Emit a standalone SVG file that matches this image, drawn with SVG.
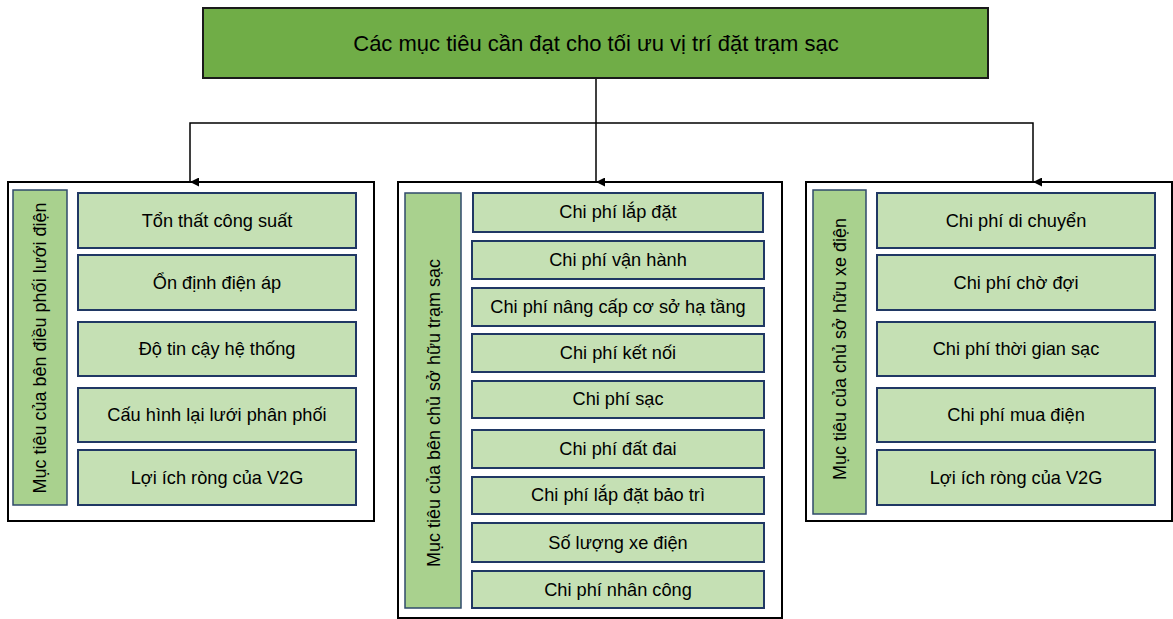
<svg xmlns="http://www.w3.org/2000/svg" width="1173" height="619" viewBox="0 0 1173 619">
<defs>
<marker id="arr" markerWidth="9" markerHeight="9" refX="4.5" refY="9" orient="auto-start-reverse" markerUnits="userSpaceOnUse" viewBox="0 0 9 9">
<path d="M0,0 L9,0 L4.5,9 Z" fill="#000"/>
</marker>
</defs>
<style>
text{font-family:"Liberation Sans",Arial,sans-serif;fill:#000;text-anchor:middle;dominant-baseline:central}
.title{font-size:22px}
.it{font-size:18.2px}
.vl{font-size:18px}
.panel{fill:#fff;stroke:#000;stroke-width:2}
.item{fill:#C5E0B4;stroke:#203864;stroke-width:2}
.lab{fill:#A9D18E;stroke:#2F4A6B;stroke-width:1.5}
.conn{fill:none;stroke:#000;stroke-width:1.5}
</style>
<rect width="1173" height="619" fill="#fff"/>
<g id="title">
<rect x="203" y="8" width="785" height="70" fill="#70AD47" stroke="#1a1a1a" stroke-width="2"/>
<text class="title" x="596" y="43">Các mục tiêu cần đạt cho tối ưu vị trí đặt trạm sạc</text>
</g>
<g id="panel-left">
<rect class="panel" x="8" y="182" width="366" height="339"/>
<rect class="lab" x="13" y="190" width="54" height="315"/>
<text class="vl" transform="translate(40,348) rotate(-90)">Mục tiêu của bên điều phối lưới điện</text>
</g>
<g id="l1"><rect class="item" x="78" y="193" width="278" height="55"/><text class="it" x="217" y="221">Tổn thất công suất</text></g>
<g id="l2"><rect class="item" x="78" y="255" width="278" height="55"/><text class="it" x="217" y="283">Ổn định điện áp</text></g>
<g id="l3"><rect class="item" x="78" y="322" width="278" height="54"/><text class="it" x="217" y="349">Độ tin cậy hệ thống</text></g>
<g id="l4"><rect class="item" x="78" y="388" width="278" height="54"/><text class="it" x="217" y="415">Cấu hình lại lưới phân phối</text></g>
<g id="l5"><rect class="item" x="78" y="450" width="278" height="55"/><text class="it" x="217" y="478">Lợi ích ròng của V2G</text></g>
<g id="panel-mid">
<rect class="panel" x="398" y="182" width="384" height="436"/>
<rect class="lab" x="405" y="193" width="56" height="415"/>
<text class="vl" transform="translate(434,413) rotate(-90)">Mục tiêu của bên chủ sở hữu trạm sạc</text>
</g>
<g id="m1"><rect class="item" x="473" y="193" width="290" height="39"/><text class="it" x="618" y="212">Chi phí lắp đặt</text></g>
<g id="m2"><rect class="item" x="472" y="241" width="292" height="38"/><text class="it" x="618" y="260">Chi phí vận hành</text></g>
<g id="m3"><rect class="item" x="472" y="288" width="292" height="38"/><text class="it" x="618" y="307">Chi phí nâng cấp cơ sở hạ tầng</text></g>
<g id="m4"><rect class="item" x="472" y="334" width="292" height="38"/><text class="it" x="618" y="353">Chi phí kết nối</text></g>
<g id="m5"><rect class="item" x="472" y="381" width="292" height="37"/><text class="it" x="618" y="399">Chi phí sạc</text></g>
<g id="m6"><rect class="item" x="472" y="430" width="292" height="38"/><text class="it" x="618" y="449">Chi phí đất đai</text></g>
<g id="m7"><rect class="item" x="472" y="477" width="292" height="37"/><text class="it" x="618" y="495">Chi phí lắp đặt bảo trì</text></g>
<g id="m8"><rect class="item" x="472" y="523" width="292" height="39"/><text class="it" x="618" y="543">Số lượng xe điện</text></g>
<g id="m9"><rect class="item" x="472" y="571" width="292" height="37"/><text class="it" x="618" y="590">Chi phí nhân công</text></g>
<g id="panel-right">
<rect class="panel" x="806" y="182" width="366" height="339"/>
<rect class="lab" x="813" y="190" width="53" height="324"/>
<text class="vl" transform="translate(840,349) rotate(-90)">Mục tiêu của chủ sở hữu xe điện</text>
</g>
<g id="r1"><rect class="item" x="877" y="193" width="278" height="55"/><text class="it" x="1016" y="221">Chi phí di chuyển</text></g>
<g id="r2"><rect class="item" x="877" y="255" width="278" height="55"/><text class="it" x="1016" y="283">Chi phí chờ đợi</text></g>
<g id="r3"><rect class="item" x="877" y="322" width="278" height="54"/><text class="it" x="1016" y="349">Chi phí thời gian sạc</text></g>
<g id="r4"><rect class="item" x="877" y="388" width="278" height="54"/><text class="it" x="1016" y="415">Chi phí mua điện</text></g>
<g id="r5"><rect class="item" x="877" y="450" width="278" height="55"/><text class="it" x="1016" y="478">Lợi ích ròng của V2G</text></g>
<g id="connectors">
<path class="conn" d="M596,79 V182" marker-end="url(#arr)"/>
<path class="conn" d="M596,123 H190 V182" marker-end="url(#arr)"/>
<path class="conn" d="M596,123 H1033 V182" marker-end="url(#arr)"/>
</g>
</svg>
